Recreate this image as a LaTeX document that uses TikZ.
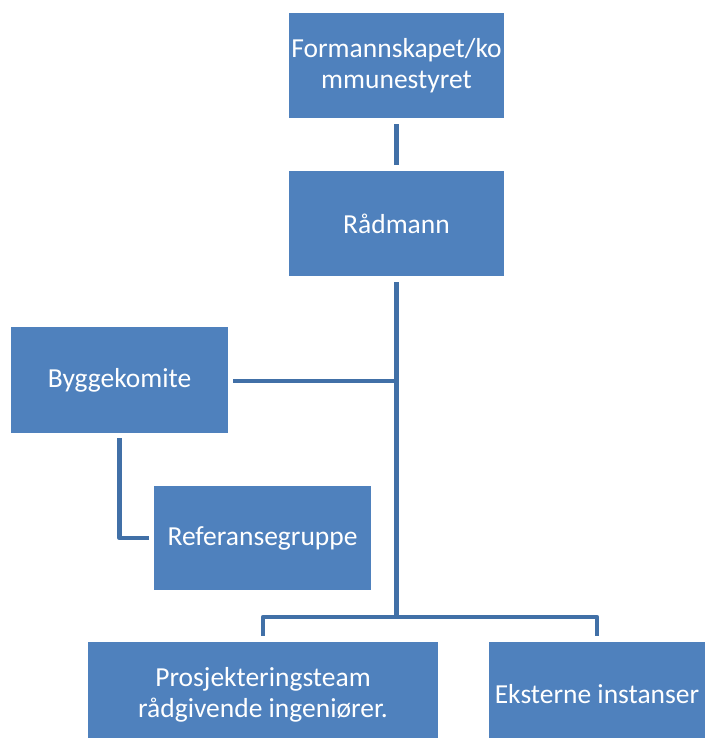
\documentclass[tikz,border=0pt]{standalone}
\usepackage{fontspec}
\setmainfont{Carlito}
\definecolor{boxblue}{HTML}{4F81BD}
\definecolor{lineblue}{RGB}{65,112,167}
\tikzset{
  orgbox/.style={rectangle, fill=boxblue, text=white, inner sep=0pt, align=center,
    font=\fontsize{27.5}{31}\selectfont},
  conn/.style={draw=lineblue, line width=4.5pt, line join=round}
}
\begin{document}
\begin{tikzpicture}[x=1pt,y=-1pt]
\useasboundingbox (0,0) rectangle (705,738);
\clip (0,0) rectangle (705,738);
\node[orgbox, minimum width=215pt, minimum height=105pt] (form) at (396.5,65.5) {Formannskapet/ko\\mmunestyret};
\node[orgbox, minimum width=215pt, minimum height=105pt] (rad) at (396.5,223.5) {Rådmann};
\node[orgbox, minimum width=217pt, minimum height=106pt] (bygg) at (119.5,380) {Byggekomite};
\node[orgbox, minimum width=217pt, minimum height=104pt] (ref) at (262.5,538) {Referansegruppe};
\node[orgbox, minimum width=350pt, minimum height=105pt] (pro) at (263,694.5) {Prosjekteringsteam\\rådgivende ingeniører.};
\node[orgbox, minimum width=216pt, minimum height=105pt] (eks) at (597,694.5) {Eksterne instanser};
\coordinate (j) at (396.5,617);
\coordinate (jb) at (396.5,381);
\draw[conn, shorten <=6pt, shorten >=6pt] (form.south) -- (rad.north);
\draw[conn, shorten <=6pt] (rad.south) -- (j);
\draw[conn, shorten <=5pt] (bygg.east |- jb) -- (jb);
\draw[conn, shorten <=5pt, shorten >=5pt] (bygg.south) |- (ref.west);
\draw[conn, shorten >=6pt] (j) -| (pro.north);
\draw[conn, shorten >=6pt] (j) -| (eks.north);
\end{tikzpicture}
\end{document}
